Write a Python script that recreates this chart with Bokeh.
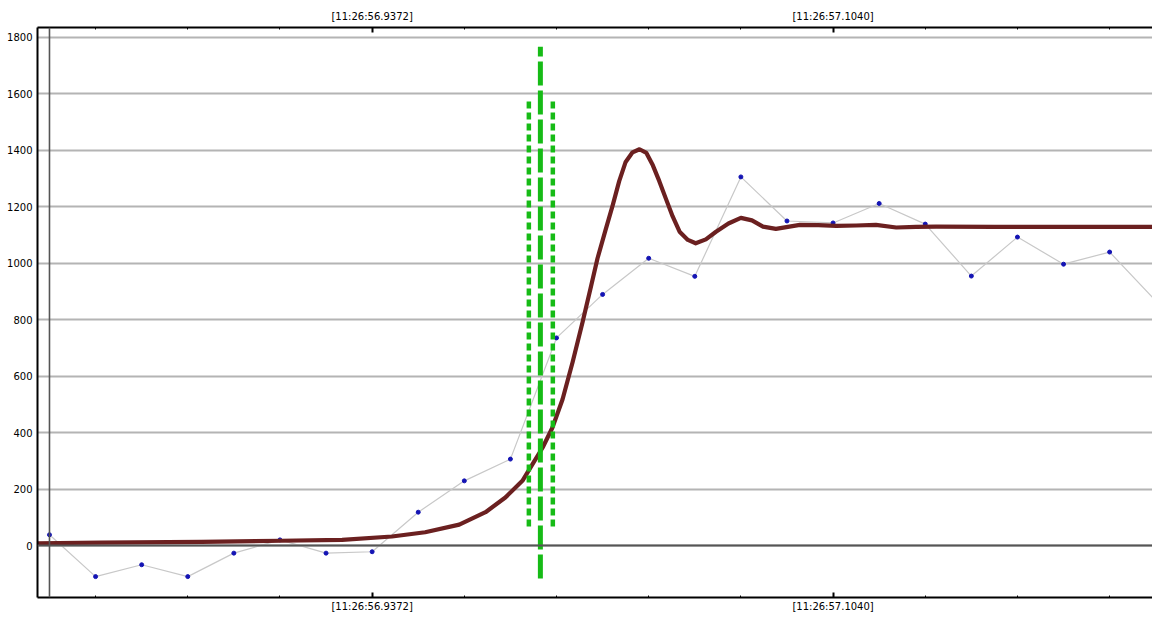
from bokeh.plotting import figure
from bokeh.models import FixedTicker, LinearAxis, Range1d, Span, ColumnDataSource
from bokeh.embed import file_html
from bokeh.resources import INLINE

# ---------------- data ----------------
# raw samples (sample index, value)
sample_idx = list(range(25))
sample_val = [38, -110, -68, -110, -27, 20, -27, -22, 118, 229, 306, 735, 889,
              1017, 953, 1305, 1149, 1142, 1211, 1138, 954, 1092, 996, 1039, 866]

# fitted response curve
curve_t = [-0.26, 1.13, 3.30, 5.02, 6.35, 7.43, 8.15, 8.89, 9.46, 9.89, 10.26,
           10.48, 10.70, 10.91, 11.13, 11.35, 11.57, 11.73, 11.89, 12.06, 12.22,
           12.36, 12.50, 12.65, 12.80, 12.95, 13.09, 13.23, 13.37, 13.52, 13.67,
           13.85, 14.02, 14.24, 14.46, 14.73, 15.00, 15.24, 15.48, 15.76, 16.02,
           16.28, 16.68, 17.07, 17.50, 17.93, 18.37, 18.80, 19.24, 20.5, 22.0, 24.0]
curve_val = [8, 10, 13, 17, 20, 32, 47, 74, 118, 170, 229,
             288, 347, 417, 517, 650, 794, 905, 1017, 1115, 1205,
             1290, 1358, 1392, 1403, 1390, 1346, 1290, 1229, 1165, 1111,
             1082, 1070, 1084, 1111, 1140, 1160, 1151, 1129, 1121, 1128,
             1135, 1134, 1132, 1133, 1135, 1126, 1128, 1129, 1128, 1128, 1128]

# x-axis time labels at sample indices
time_label_idx = [7, 17]
time_labels = ["[11:26:56.9372]", "[11:26:57.1040]"]
minor_tick_idx = [1, 3, 5, 9, 11, 13, 15, 19, 21, 23]

# y ticks
y_ticks = [0, 200, 400, 600, 800, 1000, 1200, 1400, 1600, 1800]

# trigger / window markers (data space)
trigger_x = 10.65
trigger_y = [-117, 1766]
window_x = [10.40, 10.92]
window_y = [67, 1582]

# ---------------- figure ----------------
p = figure(width=1152, height=621, output_backend="svg", toolbar_location=None,
           x_range=Range1d(-0.26, 23.93), y_range=Range1d(-184, 1834),
           x_axis_location=None, y_axis_location="left",
           min_border_left=37, min_border_top=27, min_border_bottom=24, min_border_right=0,
           background_fill_color="white", border_fill_color="white",
           outline_line_color=None)

FONT = "DejaVu Sans"

# y axis
ya = p.yaxis[0]
ya.ticker = FixedTicker(ticks=y_ticks)
ya.axis_line_color = "black"
ya.axis_line_width = 2
ya.major_tick_line_color = None
ya.minor_tick_line_color = None
ya.major_tick_in = 0
ya.major_tick_out = 0
ya.minor_tick_in = 0
ya.minor_tick_out = 0
ya.major_label_text_font = FONT
ya.major_label_text_font_size = "10px"
ya.major_label_text_color = "#000000"
ya.major_label_standoff = 5

xticker = FixedTicker(ticks=time_label_idx, minor_ticks=minor_tick_idx)
overrides = {t: lab for t, lab in zip(time_label_idx, time_labels)}

for loc, standoff in (("below", 3), ("above", 6)):
    ax = LinearAxis(ticker=xticker, major_label_overrides=overrides)
    ax.axis_line_color = "black"
    ax.axis_line_width = 2
    ax.major_tick_in = 5
    ax.major_tick_out = 0
    ax.major_tick_line_width = 2
    ax.major_tick_line_color = "black"
    ax.minor_tick_in = 2
    ax.minor_tick_out = 0
    ax.minor_tick_line_color = "black"
    ax.minor_tick_line_width = 1
    ax.major_label_text_font = FONT
    ax.major_label_text_font_size = "10px"
    ax.major_label_text_color = "#000000"
    ax.major_label_standoff = standoff
    p.add_layout(ax, loc)

# grid
p.xgrid.visible = False
p.ygrid.ticker = FixedTicker(ticks=y_ticks)
p.ygrid.grid_line_color = "#b4b4b4"
p.ygrid.grid_line_width = 2

# zero line and origin vertical line
p.add_layout(Span(location=0, dimension="width", line_color="#555555", line_width=2))
p.add_layout(Span(location=0, dimension="height", line_color="#555555", line_width=1.6))

# raw samples
p.line(sample_idx, sample_val, line_color="#c8c8c8", line_width=1.2)
p.scatter(sample_idx, sample_val, size=4, fill_color="#1414b4", line_color="#1414b4")

# response curve
p.line(curve_t, curve_val, line_color="#6b2020", line_width=4.2, line_join="round")

# window markers (dotted) and trigger (dashed)
GREEN = "#16bb16"
win_src = ColumnDataSource(dict(x0=window_x, x1=window_x,
                                y0=[window_y[0]] * 2, y1=[window_y[1]] * 2))
p.segment("x0", "y0", "x1", "y1", source=win_src, line_color=GREEN,
          line_width=4.5, line_dash="7 4")
p.segment(x0=[trigger_x], y0=[trigger_y[0]], x1=[trigger_x], y1=[trigger_y[1]],
          line_color=GREEN, line_width=5, line_dash="24 5")

open("out.html", "w").write(file_html(p, INLINE))
